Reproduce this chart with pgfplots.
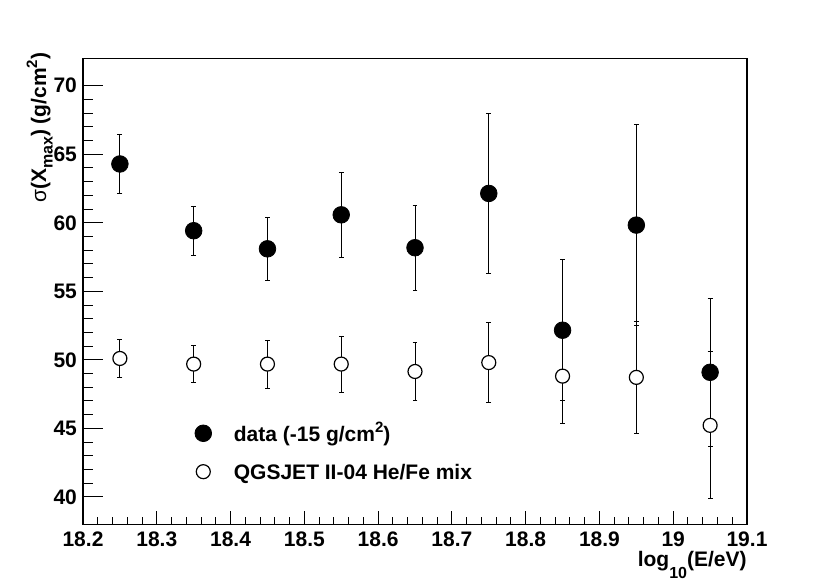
\documentclass[border=0pt]{standalone}
\usepackage{fontspec}
\setmainfont{Liberation Sans}
\usepackage{pgfplots}
\usepackage{pgfplotstable}
\pgfplotsset{compat=1.18}

\newcommand{\lbl}{\fontsize{10.5}{12}\selectfont\bfseries}
\newcommand{\sub}[2]{\raisebox{-#1}{\fontsize{8}{8}\selectfont #2}}
\newcommand{\super}[1]{\raisebox{0.8ex}{\fontsize{7.5}{8}\selectfont #1}}

\pgfplotstableread{
x y e
18.25 64.29 2.17
18.35 59.42 1.79
18.45 58.10 2.32
18.55 60.58 3.08
18.65 58.18 3.10
18.75 62.14 5.86
18.85 52.16 5.13
18.95 59.83 7.35
19.05 49.09 5.38
}\datatab

\pgfplotstableread{
x y e
18.25 50.10 1.40
18.35 49.69 1.38
18.45 49.69 1.75
18.55 49.69 2.04
18.65 49.15 2.13
18.75 49.80 2.93
18.85 48.81 3.42
18.95 48.72 4.10
19.05 45.22 5.37
}\modeltab

\begin{document}
\begin{tikzpicture}
\begin{axis}[
  scale only axis, width=332pt, height=233pt,
  xmin=18.2, xmax=19.1, ymin=38, ymax=72,
  axis line style={line width=0.6pt},
  xtick=\empty,
  ytick={40,45,50,55,60,65,70},
  yticklabels={40,45,50,55,60,65,70},
  minor y tick num=4,
  ytick pos=left, tick align=inside,
  major tick length=10pt, minor tick length=5pt,
  tick style={line width=0.5pt, black},
  yticklabel style={font=\lbl, anchor=east, inner sep=0pt, xshift=-2.85pt},
  ylabel={\textmd{σ}(X\sub{3.35pt}{max}) (g/cm\super{2})},
  ylabel style={font=\lbl, at={(axis description cs:-0.0557,1.0129)}, anchor=base east, inner sep=0pt},
  reverse legend,
  legend cell align=left,
  legend image code/.code={\draw[#1] plot coordinates {(0pt,4.15pt)}; \path[draw=none] (-4.2pt,0pt) -- (15.3pt,0pt);},
  legend style={font=\lbl, draw=none, fill=none, inner sep=0pt, outer sep=0pt,
    at={(0.1685,0.2187)}, anchor=north west, row sep=0pt, /tikz/column sep=0pt,
    nodes={inner sep=0pt, text height=9.6pt, text depth=9.6pt}},
]
\addplot[only marks, mark=*, mark size=3.5pt,
  mark options={fill=white, draw=black, line width=0.6pt},
  error bars/.cd, y dir=both, y explicit,
  error bar style={line width=0.5pt, black},
  error mark options={rotate=90, mark size=1.2pt, line width=0.5pt, black}]
  table[x=x, y=y, y error=e]{\modeltab};
\addlegendentry{QGSJET II-04 He/Fe mix}
\addplot[only marks, mark=*, mark size=4.15pt,
  mark options={fill=black, draw=black},
  error bars/.cd, y dir=both, y explicit,
  error bar style={line width=0.5pt, black},
  error mark options={rotate=90, mark size=1.2pt, line width=0.5pt, black}]
  table[x=x, y=y, y error=e]{\datatab};
\addlegendentry{data (-15 g/cm\super{2})}
\end{axis}
\begin{axis}[
  scale only axis, width=332pt, height=233pt,
  xmin=18.2, xmax=19.1, ymin=38, ymax=72,
  axis line style={line width=0.6pt},
  ytick=\empty,
  xtick={18.2,18.3,18.4,18.5,18.6,18.7,18.8,18.9,19,19.1},
  xticklabels={18.2,18.3,18.4,18.5,18.6,18.7,18.8,18.9,19,19.1},
  minor x tick num=4,
  xtick pos=bottom, tick align=inside,
  major tick length=6.85pt, minor tick length=3.5pt,
  tick style={line width=0.5pt, black},
  xticklabel style={font=\lbl, anchor=base, inner sep=0pt, yshift=-10.85pt},
  xlabel={log\sub{6pt}{10}(E/eV)},
  xlabel style={font=\lbl, at={(axis description cs:1,0)}, anchor=base east, inner sep=0pt, yshift=-21.3pt},
]
\end{axis}
\pgfresetboundingbox
\path ([shift={(-41.5pt,-29.35pt)}]current axis.south west) rectangle ([shift={(41.5pt,29.15pt)}]current axis.north east);
\end{tikzpicture}
\end{document}
